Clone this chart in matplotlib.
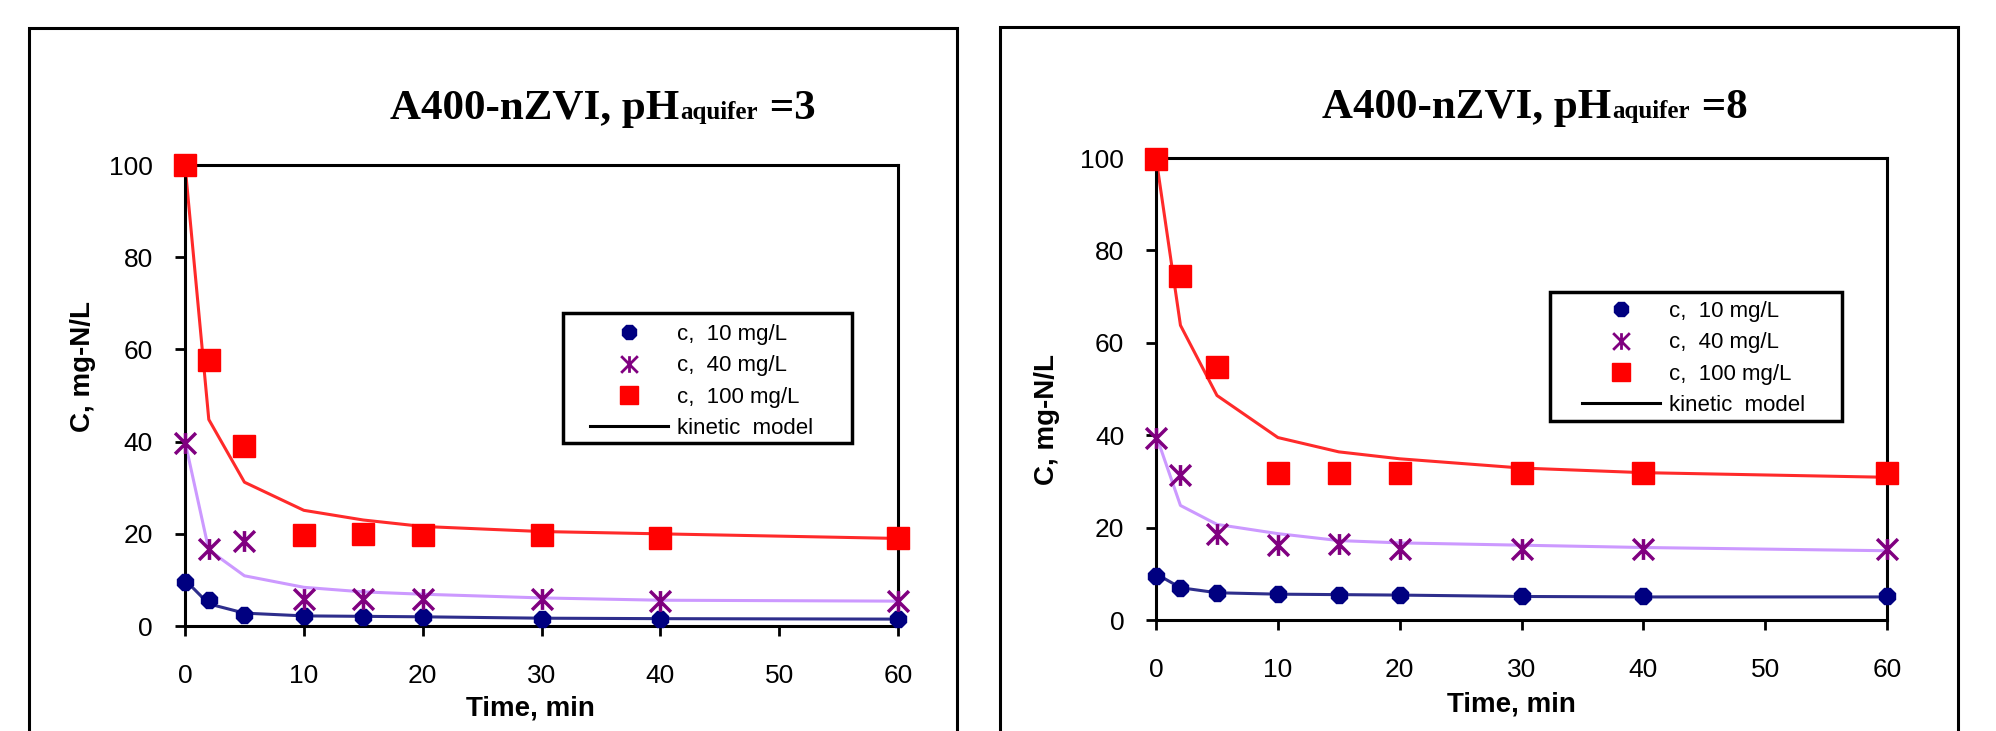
# Nitrate removal by A400-nZVI at two aquifer pH values
import matplotlib
matplotlib.use("Agg")
import matplotlib.pyplot as plt
from matplotlib.lines import Line2D
from matplotlib.patches import Rectangle
from matplotlib.path import Path
from matplotlib.offsetbox import TextArea, HPacker, AnnotationBbox

# ---- data ----
time_min = [0, 2, 5, 10, 15, 20, 30, 40, 60]

# pH aquifer = 3
ph3_c10 = [9.6, 5.7, 2.5, 2.1, 2.0, 2.0, 1.6, 1.5, 1.5]
ph3_c40 = [39.8, 16.7, 18.5, 5.9, 5.9, 5.9, 5.9, 5.4, 5.4]
ph3_c100 = [100, 57.8, 39.0, 19.8, 20.0, 19.8, 19.8, 19.0, 19.0]
ph3_model10 = [10, 4.8, 2.8, 2.2, 2.1, 2.0, 1.7, 1.6, 1.5]
ph3_model40 = [40, 16.5, 10.9, 8.4, 7.4, 6.9, 6.1, 5.6, 5.4]
ph3_model100 = [100, 44.8, 31.2, 25.1, 23.0, 21.6, 20.5, 20.0, 19.0]

# pH aquifer = 8
ph8_c10 = [9.6, 6.9, 5.9, 5.6, 5.4, 5.4, 5.1, 5.1, 5.1]
ph8_c40 = [39.5, 31.4, 18.7, 16.2, 16.4, 15.4, 15.4, 15.4, 15.4]
ph8_c100 = [99.7, 74.4, 54.7, 31.9, 31.9, 31.9, 31.9, 31.9, 31.9]
ph8_model10 = [10, 7.0, 5.9, 5.6, 5.5, 5.4, 5.1, 5.0, 5.0]
ph8_model40 = [40, 24.8, 20.7, 18.7, 17.2, 16.7, 16.2, 15.7, 15.0]
ph8_model100 = [100, 63.8, 48.6, 39.5, 36.4, 34.9, 32.9, 31.9, 30.9]

x_ticks = [0, 10, 20, 30, 40, 50, 60]
y_ticks = [0, 20, 40, 60, 80, 100]
legend_labels = ["c,  10 mg/L", "c,  40 mg/L", "c,  100 mg/L", "kinetic  model"]

# ---- styles ----
plt.rcParams.update({
    'font.family': 'Liberation Sans',
    'axes.linewidth': 2.2,
})

blue = "#000080"
purple = "#800080"
red = "#FF0000"
blue_line = "#2E2E8C"
purple_line = "#CC99FF"
red_line = "#FF2A2A"

# X with a vertical bar (Excel style star marker)
star_marker = Path([(-1, -1), (1, 1), (-1, 1), (1, -1), (0, -1), (0, 1)],
                   [Path.MOVETO, Path.LINETO, Path.MOVETO, Path.LINETO, Path.MOVETO, Path.LINETO])

fig = plt.figure(figsize=(19.96, 7.31), dpi=100)

# outer frames around each chart
fig.patches.append(Rectangle((0.0144, -0.2), 0.465, 1.162, transform=fig.transFigure,
                             fill=False, edgecolor='black', linewidth=2.2))
fig.patches.append(Rectangle((0.501, -0.2), 0.480, 1.163, transform=fig.transFigure,
                             fill=False, edgecolor='black', linewidth=2.2))

panels = [
    dict(rect=[0.0927, 0.1436, 0.3572, 0.6306], ph="3",
         c10=ph3_c10, c40=ph3_c40, c100=ph3_c100,
         m10=ph3_model10, m40=ph3_model40, m100=ph3_model100,
         title_xy=(0.302, 0.851), ylab=(-0.125, 0.564), xlab=(0.484, -0.150),
         leg=(0.568, 0.655), leg_box=(0.530, 0.397, 0.405, 0.282)),
    dict(rect=[0.5792, 0.1518, 0.3662, 0.632], ph="8",
         c10=ph8_c10, c40=ph8_c40, c100=ph8_c100,
         m10=ph8_model10, m40=ph8_model40, m100=ph8_model100,
         title_xy=(0.769, 0.852), ylab=(-0.131, 0.433), xlab=(0.486, -0.155),
         leg=(0.583, 0.690), leg_box=(0.539, 0.431, 0.400, 0.279)),
]

for p in panels:
    ax = fig.add_axes(p['rect'])

    # kinetic model curves
    ax.plot(time_min, p['m10'], color=blue_line, lw=2.2, clip_on=False, zorder=2)
    ax.plot(time_min, p['m40'], color=purple_line, lw=2.2, clip_on=False, zorder=2)
    ax.plot(time_min, p['m100'], color=red_line, lw=2.2, clip_on=False, zorder=2)

    # measured concentrations
    ax.plot(time_min, p['c10'], ls='none', marker='8', ms=13, color=blue, clip_on=False, zorder=3)
    ax.plot(time_min, p['c40'], ls='none', marker=star_marker, ms=15, mew=2.5, color=purple,
            clip_on=False, zorder=3)
    ax.plot(time_min, p['c100'], ls='none', marker='s', ms=16, color=red, clip_on=False, zorder=3)

    ax.set_xlim(0, 60)
    ax.set_ylim(0, 100)
    ax.set_xticks(x_ticks)
    ax.set_yticks(y_ticks)
    ax.tick_params(axis='both', direction='out', length=7, width=2, labelsize=19)
    ax.tick_params(axis='x', pad=20)
    ax.tick_params(axis='y', pad=16)

    ax.set_xlabel("Time, min", fontsize=20, fontweight='bold')
    ax.xaxis.set_label_coords(*p['xlab'])
    ax.set_ylabel("C, mg-N/L", fontsize=20, fontweight='bold')
    ax.yaxis.set_label_coords(*p['ylab'])

    # legend frame drawn separately so it can be sized like the original
    bx, by, bw, bh = p['leg_box']
    ax.add_patch(Rectangle((bx, by), bw, bh, transform=ax.transAxes, facecolor='white',
                           edgecolor='black', linewidth=2.5, zorder=4))

    # legend with proxy handles
    handles = [
        Line2D([], [], ls='none', marker='8', ms=11, color=blue),
        Line2D([], [], ls='none', marker=star_marker, ms=12, mew=2, color=purple),
        Line2D([], [], ls='none', marker='s', ms=13, color=red),
        Line2D([], [], color='black', lw=2.2),
    ]
    leg = ax.legend(handles, legend_labels, loc='upper left', bbox_to_anchor=p['leg'],
                    fontsize=16, frameon=False, borderpad=0, labelspacing=0.46,
                    handlelength=3.5, handletextpad=0.4, borderaxespad=0)
    leg.set_zorder(5)

    # title: "A400-nZVI, pH" + small "aquifer" + "= n"
    serif = dict(family='Liberation Serif', weight='bold', color='black')
    parts = [TextArea("A400-nZVI, pH", textprops=dict(size=31, **serif)),
             TextArea("aquifer", textprops=dict(size=18, **serif)),
             TextArea(" =" + p['ph'], textprops=dict(size=31, **serif))]
    pack = HPacker(children=parts, align="baseline", pad=0, sep=1)
    fig.add_artist(AnnotationBbox(pack, p['title_xy'], xycoords='figure fraction',
                                  frameon=False, box_alignment=(0.5, 0.5)))

fig.savefig("out.png", dpi=100)
